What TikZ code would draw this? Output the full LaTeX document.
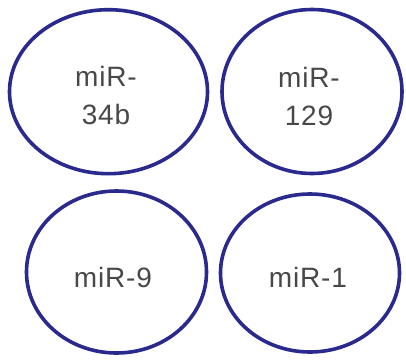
\documentclass[tikz,border=0pt]{standalone}
\usepackage{fontspec}
\setmainfont{Liberation Sans}
\usetikzlibrary{shapes.geometric}
\definecolor{ringblue}{HTML}{2A2A8E}
\definecolor{txtgray}{HTML}{484848}
\tikzset{
  ring/.style={ellipse, draw=ringblue, line width=3.6pt, inner sep=0pt},
  lbl/.style={text=txtgray, align=center, inner sep=0pt,
    font=\fontsize{28}{38}\selectfont\addfontfeature{LetterSpace=3}}
}
\begin{document}
\begin{tikzpicture}[x=1pt,y=-1pt]
\useasboundingbox[fill=white] (0,0) rectangle (406,359);
\node[ring, minimum width=198pt, minimum height=164pt] (e1) at (108.5,91.7) {};
\node[ring, minimum width=180pt, minimum height=164pt] (e2) at (312,91.5) {};
\node[ring, minimum width=180pt, minimum height=162pt] (e3) at (116.5,272) {};
\node[ring, minimum width=179pt, minimum height=158pt] (e4) at (310,273) {};
\node[lbl] (t1) at (106,95.5) {miR-\\34b};
\node[lbl] (t2) at (309,96) {miR-\\129};
\node[lbl] (t3) at (113,277.5) {miR-9};
\node[lbl] (t4) at (308,277.5) {miR-1};
\end{tikzpicture}
\end{document}
